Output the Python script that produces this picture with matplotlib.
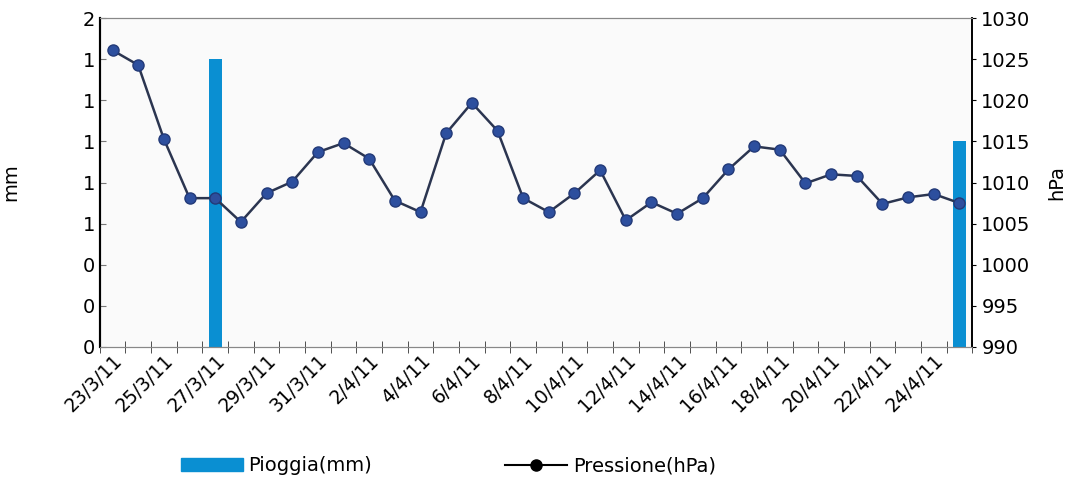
import numpy as np
import matplotlib
matplotlib.use("Agg")
from matplotlib import pyplot as plt
from matplotlib.lines import Line2D
from matplotlib.patches import Patch

# giorni dal 23/3/11 al 25/4/11
giorni = ["23/3/11", "24/3/11", "25/3/11", "26/3/11", "27/3/11", "28/3/11", "29/3/11",
          "30/3/11", "31/3/11", "1/4/11", "2/4/11", "3/4/11", "4/4/11", "5/4/11",
          "6/4/11", "7/4/11", "8/4/11", "9/4/11", "10/4/11", "11/4/11", "12/4/11",
          "13/4/11", "14/4/11", "15/4/11", "16/4/11", "17/4/11", "18/4/11", "19/4/11",
          "20/4/11", "21/4/11", "22/4/11", "23/4/11", "24/4/11", "25/4/11"]

pioggia = [0, 0, 0, 0, 1.4, 0, 0, 0, 0, 0, 0, 0, 0, 0, 0, 0, 0,
           0, 0, 0, 0, 0, 0, 0, 0, 0, 0, 0, 0, 0, 0, 0, 0, 1.0]

pressione = [1026.1, 1024.3, 1015.3, 1008.1, 1008.1, 1005.2, 1008.7, 1010.1,
             1013.7, 1014.8, 1012.9, 1007.8, 1006.4, 1016.0, 1019.7, 1016.3,
             1008.1, 1006.4, 1008.7, 1011.5, 1005.4, 1007.6, 1006.2, 1008.1,
             1011.6, 1014.4, 1014.0, 1009.9, 1011.0, 1010.8, 1007.4, 1008.2,
             1008.6, 1007.5]

mm_ticks = [0, 0.2, 0.4, 0.6, 0.8, 1.0, 1.2, 1.4, 1.6]
hpa_ticks = [990, 995, 1000, 1005, 1010, 1015, 1020, 1025, 1030]

plt.rcParams['font.family'] = ['DejaVu Sans']

x = np.arange(len(giorni))

fig = plt.figure(figsize=(10.72, 4.92), dpi=100)
ax = fig.add_axes([0.093, 0.295, 0.814, 0.668])
ax.set_facecolor('#fafafa')

ax.bar(x, pioggia, width=0.5, color='#0a8fd2', zorder=2)
ax.set_ylim(0, 1.6)
ax.set_xlim(-0.5, len(giorni) - 0.5)
ax.set_yticks(mm_ticks)
ax.set_yticklabels(["{:.0f}".format(v + 1e-9) for v in mm_ticks], fontsize=14)
ax.set_ylabel("mm", fontsize=14, labelpad=45)

# pressione sull'asse destro
ax2 = ax.twinx()
ax2.plot(x, pressione, color='#2b3550', lw=1.8, marker='o', markersize=8,
         markerfacecolor='#2d4f9e', markeredgecolor='#233a78', zorder=3)
ax2.set_ylim(990, 1030)
ax2.set_yticks(hpa_ticks)
ax2.tick_params(axis='y', labelsize=14, length=3, direction='out')
ax2.set_ylabel("hPa", fontsize=14, labelpad=12)

# tacche tra una categoria e l'altra, etichette un giorno si' e uno no
ax.set_xticks(np.arange(-0.5, len(giorni), 1), minor=True)
ax.set_xticks(x[::2])
ax.set_xticklabels(giorni[::2], rotation=45, ha='right', rotation_mode='anchor',
                   fontsize=13.5)
ax.tick_params(axis='x', which='major', length=0, pad=3)
ax.tick_params(axis='x', which='minor', length=8, direction='inout', color='#333333')
ax.tick_params(axis='y', length=4, direction='in', color='#777777')

for a in (ax, ax2):
    a.spines['top'].set_color('#888888')
    a.spines['bottom'].set_color('#888888')
    a.spines['left'].set_color('black')
    a.spines['right'].set_color('black')
    a.spines['left'].set_linewidth(1.5)
    a.spines['right'].set_linewidth(1.2)

handles = [Patch(color='#0a8fd2'),
           Line2D([], [], color='black', marker='o', markersize=8, lw=1.5)]
fig.legend(handles, ["Pioggia(mm)", "Pressione(hPa)"], loc='center',
           bbox_to_anchor=(0.418, 0.053), ncol=2, frameon=False, fontsize=14,
           columnspacing=6.8, handlelength=3.2, handletextpad=0.3)

plt.savefig("out.png", dpi=100, facecolor='white')
